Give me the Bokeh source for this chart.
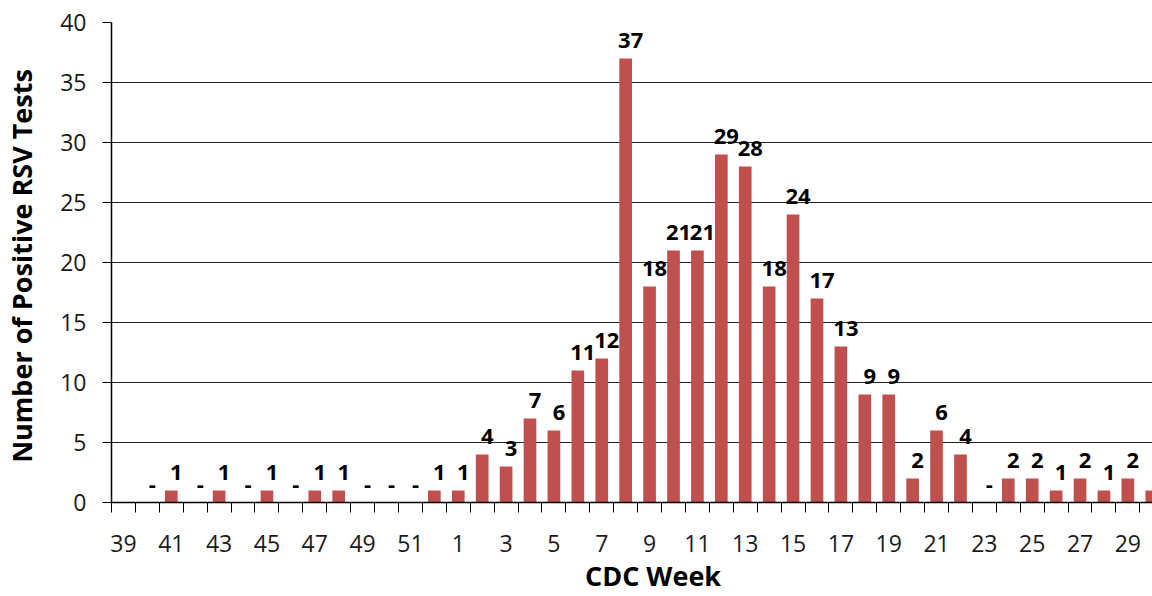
from bokeh.plotting import figure
from bokeh.models import Range1d, FixedTicker
from bokeh.core.properties import value
from bokeh.embed import file_html
from bokeh.resources import INLINE

# CDC weeks (season running from week 39 to week 30 of the next year)
weeks = ["39", "40", "41", "42", "43", "44", "45", "46", "47", "48", "49", "50", "51", "52",
         "1", "2", "3", "4", "5", "6", "7", "8", "9", "10", "11", "12", "13", "14", "15",
         "16", "17", "18", "19", "20", "21", "22", "23", "24", "25", "26", "27", "28", "29", "30"]
positives = [0, 0, 1, 0, 1, 0, 1, 0, 1, 1, 0, 0, 0, 1,
             1, 4, 3, 7, 6, 11, 12, 37, 18, 21, 21, 29, 28, 18, 24,
             17, 13, 9, 9, 2, 6, 4, 0, 2, 2, 1, 2, 1, 2, 1]
bar_labels = ["", "-", "1", "-", "1", "-", "1", "-", "1", "1", "-", "-", "-", "1",
              "1", "4", "3", "7", "6", "11", "12", "37", "18", "21", "21", "29", "28", "18", "24",
              "17", "13", "9", "9", "2", "6", "4", "-", "2", "2", "1", "2", "1", "2", ""]
y_ticks = [0, 5, 10, 15, 20, 25, 30, 35, 40]

idx = list(range(len(weeks)))
FONT = "Open Sans"
BAR = "#C0504D"

p = figure(width=1152, height=596, output_backend="svg", toolbar_location=None,
           x_range=Range1d(-0.5, 43.03), y_range=Range1d(0, 40),
           min_border_left=109, min_border_right=0, min_border_top=22, min_border_bottom=94)
p.outline_line_color = None
p.background_fill_color = "white"
p.border_fill_color = "white"

p.vbar(x=idx, top=positives, width=0.53, fill_color=BAR, line_color=None)
p.text(x=idx, y=positives, text=bar_labels, x_offset=5, y_offset=-18,
       text_align="center", text_baseline="alphabetic",
       text_font=value(FONT), text_font_style="bold", text_font_size="22px", text_color="black")

# x axis: labels on every other week, tick marks between weeks
lab_ticks = idx[::2]
p.xaxis.ticker = FixedTicker(ticks=lab_ticks, minor_ticks=[i - 0.5 for i in idx] + [len(idx) - 0.5])
p.xaxis.major_label_overrides = {i: weeks[i] for i in lab_ticks}
p.xaxis.major_tick_out = 0
p.xaxis.major_tick_in = 0
p.xaxis.minor_tick_out = 10
p.xaxis.minor_tick_in = 0
p.xaxis.minor_tick_line_color = "black"
p.xaxis.axis_line_color = "black"
p.xaxis.axis_line_width = 1.5
p.xaxis.major_label_standoff = 22
p.xaxis.major_label_text_font = FONT
p.xaxis.major_label_text_font_size = "23px"
p.xaxis.major_label_text_color = "#1a1a1a"
p.xaxis.axis_label = "\u00a0\u00a0\u00a0\u00a0\u00a0\u00a0CDC Week"
p.xaxis.axis_label_text_font = FONT
p.xaxis.axis_label_text_font_style = "bold"
p.xaxis.axis_label_text_font_size = "27px"
p.xaxis.axis_label_text_color = "black"
p.xaxis.axis_label_standoff = 2

p.yaxis.ticker = FixedTicker(ticks=y_ticks)
p.yaxis.minor_tick_out = 0
p.yaxis.minor_tick_in = 0
p.yaxis.major_tick_out = 9
p.yaxis.major_tick_in = 0
p.yaxis.major_tick_line_color = "black"
p.yaxis.axis_line_color = "black"
p.yaxis.axis_line_width = 1.5
p.yaxis.major_label_standoff = 16
p.yaxis.major_label_text_font = FONT
p.yaxis.major_label_text_font_size = "23px"
p.yaxis.major_label_text_color = "#1a1a1a"
p.yaxis.axis_label = "Number of  Positive RSV Tests"
p.yaxis.axis_label_text_font = FONT
p.yaxis.axis_label_text_font_style = "bold"
p.yaxis.axis_label_text_font_size = "27px"
p.yaxis.axis_label_text_color = "black"
p.yaxis.axis_label_standoff = 17

p.xgrid.grid_line_color = None
p.ygrid.grid_line_color = "#222222"
p.ygrid.grid_line_width = 1

open("out.html", "w").write(file_html(p, INLINE))
